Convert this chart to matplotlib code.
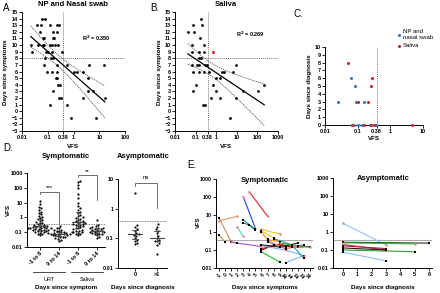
import numpy as np
import matplotlib
matplotlib.use('Agg')
import matplotlib.pyplot as plt
from matplotlib.transforms import blended_transform_factory
from matplotlib.ticker import NullLocator, FixedLocator, FixedFormatter

plt.rcParams['font.family'] = ['Liberation Sans', 'DejaVu Sans']
plt.rcParams['font.weight'] = 'bold'
plt.rcParams['axes.linewidth'] = 0.7

# ---------------- data ----------------
# Panel A: NP and nasal swab
a_vfs = [0.058, 0.078, 0.039, 0.053, 0.122, 0.235, 0.28, 0.05, 0.166, 0.224,
         0.063, 0.071, 0.155, 0.174, 0.022, 0.043, 0.063, 0.071, 0.123, 0.141, 0.19, 0.257,
         0.025, 0.085, 0.105, 0.141, 0.35, 0.078, 0.129, 0.166,
         0.071, 0.234, 0.55, 4.1, 15, 0.095, 0.141, 0.234, 1.05, 1.4, 2.3,
         0.209, 0.234, 3.7, 0.257, 0.30, 0.166, 3.7, 5.9, 0.28, 0.316, 2.4, 16.6,
         0.123, 0.575, 0.78, 7.4]
a_days = [14, 14, 13, 13, 13, 13, 13, 12, 12, 12,
          11, 11, 11, 11, 10, 10, 10, 10, 10, 10, 10, 10,
          9, 9, 9, 9, 9, 8, 8, 8,
          7, 7, 7, 7, 7, 6, 6, 6, 6, 6, 6,
          5, 5, 5, 4, 4, 3, 3, 3, 2, 2, 2, 2,
          1, 1, -1, -1]
a_r2 = "0.350"

# Panel B: saliva
b_vfs = [0.183, 0.078, 0.214, 0.042, 0.087, 0.162, 0.069, 0.263, 0.069, 0.148, 0.263,
         0.151, 0.178, 0.069, 0.112, 0.151, 0.288, 0.347, 9.1,
         0.074, 0.151, 0.263, 0.447, 1.86, 2.45, 6.8, 0.955, 1.51,
         0.105, 0.724, 214, 0.078, 0.977, 19.5, 110, 0.562, 1.51, 9.1,
         0.234, 0.288, 4.7]
b_days = [14, 13, 13, 12, 12, 11, 10, 10, 9, 9, 9,
          8, 8, 7, 7, 7, 7, 7, 7,
          6, 6, 6, 6, 6, 6, 6, 5, 5,
          4, 4, 4, 3, 3, 3, 3, 2, 2, 2,
          1, 1, -1]
b_out_vfs = [0.724]
b_out_days = [9]
b_r2 = "0.269"

# Panel C: days since diagnosis (asymptomatic)
c_np_vfs = [0.025, 0.063, 0.083, 0.087, 0.158, 0.079, 0.105, 0.132, 0.24, 0.355]
c_np_days = [3, 6, 5, 3, 3, 0, 0, 0, 0, 0]
c_sal_vfs = [0.049, 0.282, 0.257, 0.10, 0.209, 0.069, 0.158, 0.257, 0.324, 4.5]
c_sal_days = [8, 6, 5, 3, 3, 0, 0, 0, 0, 0]

# Panel D: symptomatic groups
d_sym_labels = ['-1 to 8', '9 to 14', '-1 to 8', '9 to 14']
d_urt_early = [13, 8, 5, 4, 3, 2.5, 2, 1.6, 1.3, 1.1, 0.9, 0.8, 0.7, 0.6, 0.5, 0.45,
               0.4, 0.35, 0.32, 0.3, 0.28, 0.26, 0.25, 0.23, 0.22, 0.21, 0.2, 0.19,
               0.18, 0.17, 0.16, 0.15, 0.14, 0.13, 0.12, 0.11, 0.1, 0.09, 0.08, 0.07,
               0.06, 0.2, 0.18, 0.15, 0.12]
d_urt_late = [0.25, 0.2, 0.18, 0.15, 0.14, 0.13, 0.12, 0.11, 0.1, 0.1, 0.09, 0.09,
              0.085, 0.08, 0.08, 0.075, 0.07, 0.07, 0.065, 0.06, 0.06, 0.055, 0.05,
              0.05, 0.045, 0.04, 0.035, 0.03, 0.025]
d_sal_early = [300, 250, 150, 100, 40, 20, 10, 6, 4, 3, 2.5, 2, 1.5, 1.2, 1, 0.9,
               0.8, 0.7, 0.6, 0.55, 0.5, 0.45, 0.4, 0.38, 0.35, 0.32, 0.3, 0.28, 0.25,
               0.22, 0.2, 0.18, 0.16, 0.15, 0.13, 0.12, 0.11, 0.1, 0.09, 0.08, 0.07, 0.06]
d_sal_late = [0.7, 0.3, 0.25, 0.22, 0.2, 0.19, 0.18, 0.17, 0.16, 0.15, 0.14, 0.13,
              0.12, 0.12, 0.11, 0.1, 0.1, 0.09, 0.09, 0.08, 0.08, 0.07, 0.06, 0.05, 0.04]
d_sym_sig = ['***', '**']
d_asym_labels = ['0', '>1']
d_asym_0 = [3.5, 0.28, 0.25, 0.2, 0.18, 0.15, 0.14, 0.13, 0.12, 0.1, 0.09, 0.08, 0.07, 0.065]
d_asym_1 = [0.3, 0.25, 0.2, 0.18, 0.15, 0.12, 0.1, 0.09, 0.08, 0.08, 0.07, 0.06, 0.03]
d_asym_sig = 'ns'

# Panel E: symptomatic trajectories (days since symptoms, VFS)
e_sym_days = [[-1, 2], [-1, 1, 2], [-1, 0], [1, 6], [3, 5], [4, 7], [3, 5], [2, 3],
              [3, 4, 5], [6, 9], [6, 8, 10], [6, 7, 9], [6, 9, 11], [6, 9], [10, 13],
              [6, 8, 12, 14], [7, 10, 13], [6, 10, 13], [8, 11, 13], [6, 9, 12],
              [9, 12, 14], [7, 10, 12]]
e_sym_vals = [[4.5, 8], [6.5, 0.3, 0.25], [0.7, 0.3], [0.28, 0.16], [100, 1.7], [190, 8],
              [5, 1.5], [2, 0.6], [3.5, 2.5, 1.3], [1.5, 0.8], [1.2, 0.5, 0.15],
              [1.0, 0.4, 0.3], [0.12, 0.22, 0.15], [0.08, 0.022], [0.02, 0.05],
              [0.1, 0.2, 0.15, 0.16], [0.3, 0.12, 0.2], [0.18, 0.1, 0.05],
              [0.45, 0.2, 0.035], [0.2, 0.15, 0.25], [0.25, 0.18, 0.15], [0.35, 0.12, 0.18]]
# Panel E: asymptomatic trajectories (days since diagnosis, VFS)
e_asym_days = [[0, 3], [0, 6], [0, 5], [0, 3], [0, 3], [0, 5], [0, 3], [0, 3]]
e_asym_vals = [[3, 0.19], [0.27, 0.24], [0.25, 0.22], [0.2, 0.1], [0.17, 0.12],
               [0.1, 0.08], [0.075, 0.025], [0.13, 0.1]]

threshold = 0.38

# ---------------- styles ----------------
e_sym_colors = ['#d2a064', '#c89050', '#c89050', '#b040e0', '#2040e0', '#e82020', '#20a090',
                '#40e0c0', '#208080', '#f0c020', '#f0c020', '#f09020', '#c02020', '#20c020',
                '#80b0f0', '#a01010', '#808080', '#80b0f0', '#20a0a0', '#202020',
                '#20a020', '#f08080']
e_sym_mk = ['p', 'k', 'k', 'p', 'p', 'p', 'k', 'p', 'k', 'p', 'k', 'k', 'k', 'k', 'k',
            'k', 'k', 'p', 'k', 'k', 'p', 'k']
e_asym_colors = ['#90c0f0', '#204020', '#30b030', '#c03030', '#a02040', '#30a030',
                 '#90c0f0', '#202020']
e_asym_mk = ['p', 'k', 'p', 'p', 'k', 'k', 'k', 'k']
PINK = '#f08080'

W, H = 440, 293
fig = plt.figure(figsize=(W / 100, H / 100), dpi=100)
FS = 4


def add_ax(l, t, r, b):
    return fig.add_axes([l / W, 1 - b / H, (r - l) / W, (b - t) / H])


def ftext(x, y, s, **kw):
    kw.setdefault('ha', 'center')
    kw.setdefault('va', 'center')
    fig.text(x / W, 1 - y / H, s, **kw)


def style(ax):
    ax.spines['top'].set_visible(False)
    ax.spines['right'].set_visible(False)
    ax.tick_params(length=2, width=0.6, labelsize=FS, pad=1)
    for t in ax.get_xticklabels() + ax.get_yticklabels():
        t.set_fontweight('bold')


def log_x_ticks(ax, ticks, labels):
    ax.xaxis.set_major_locator(FixedLocator(ticks))
    ax.xaxis.set_major_formatter(FixedFormatter(labels))
    ax.xaxis.set_minor_locator(NullLocator())


def log_y_ticks(ax, ticks, labels):
    ax.yaxis.set_major_locator(FixedLocator(ticks))
    ax.yaxis.set_major_formatter(FixedFormatter(labels))
    ax.yaxis.set_minor_locator(NullLocator())


def regression(ax, vfs, days):
    x = np.log10(np.array(vfs))
    y = np.array(days, dtype=float)
    b, a = np.polyfit(x, y, 1)
    n = len(x)
    res = y - (a + b * x)
    s = np.sqrt(np.sum(res ** 2) / (n - 2))
    xm = x.mean()
    sxx = np.sum((x - xm) ** 2)
    xs = np.linspace(x.min(), x.max(), 100)
    yf = a + b * xs
    se = s * np.sqrt(1 / n + (xs - xm) ** 2 / sxx)
    ax.plot(10 ** xs, yf, color='black', lw=0.9)
    ax.plot(10 ** xs, yf + 2.0 * se, color='#555555', lw=0.6, ls=(0, (1.5, 1)))
    ax.plot(10 ** xs, yf - 2.0 * se, color='#555555', lw=0.6, ls=(0, (1.5, 1)))


def scatter_panel(ax, vfs, days, xmax, xticks, xlabels):
    ax.set_xscale('log')
    ax.set_xlim(0.01, xmax)
    ax.set_ylim(-3, 15)
    ax.set_yticks(range(-3, 16))
    log_x_ticks(ax, xticks, xlabels)
    ax.axvline(threshold, color='#777777', lw=0.7, ls=(0, (1, 1)))
    ax.axhline(8, color='#777777', lw=0.7, ls=(0, (1, 1)))
    ax.scatter(vfs, days, s=4, color='black', zorder=3, linewidths=0)
    regression(ax, vfs, days)
    style(ax)


# ---- Panel A ----
axA = add_ax(22, 12, 125, 131)
scatter_panel(axA, a_vfs, a_days, 100, [0.01, 0.1, 0.38, 1, 10, 100],
              ['0.01', '0.1', '0.38', '1', '10', '100'])
axA.text(2.2, 11.0, 'R$^2$ = ' + a_r2, fontsize=4, va='center', ha='left')
ftext(73, 5, 'NP and Nasal swab', fontsize=5.5, fontweight='bold')
ftext(73, 147, 'VFS', fontsize=4.5, fontweight='bold')
ftext(6, 72, 'Days since symptoms', fontsize=4.5, fontweight='bold', rotation=90)
ftext(8, 8, 'A.', fontsize=7, fontweight='normal')

# ---- Panel B ----
axB = add_ax(175, 12, 278, 131)
scatter_panel(axB, b_vfs, b_days, 1000, [0.01, 0.1, 0.38, 1, 10, 100, 1000],
              ['0.01', '0.1', '0.38', '1', '10', '100', '1000'])
axB.scatter(b_out_vfs, b_out_days, s=4, color='red', zorder=3, linewidths=0)
axB.text(9, 11.6, 'R$^2$ = ' + b_r2, fontsize=4, va='center', ha='left')
ftext(226, 5, 'Saliva', fontsize=5.5, fontweight='bold')
ftext(226, 147, 'VFS', fontsize=4.5, fontweight='bold')
ftext(159, 72, 'Days since symptoms', fontsize=4.5, fontweight='bold', rotation=90)
ftext(155, 8, 'B.', fontsize=7, fontweight='normal')

# ---- Panel C ----
axC = add_ax(325, 47, 423, 125)
axC.set_xscale('log')
axC.set_xlim(0.01, 10)
axC.set_ylim(0, 10)
axC.set_yticks(range(0, 11))
log_x_ticks(axC, [0.01, 0.1, 0.38, 1, 10], ['0.01', '0.1', '0.38', '1', '10'])
axC.axvline(threshold, color='#777777', lw=0.7, ls=(0, (1, 1)))
axC.scatter(c_np_vfs, c_np_days, s=5, color='#3a78c8', zorder=3, linewidths=0,
            label='NP and\nnasal swab', clip_on=False)
axC.scatter(c_sal_vfs, c_sal_days, s=5, color='#c0282e', zorder=3, linewidths=0,
            label='Saliva', clip_on=False)
axC.legend(loc='upper left', bbox_to_anchor=(0.7, 1.26), frameon=False, fontsize=4.3,
           handletextpad=0.1, handlelength=1.0, borderaxespad=0, labelspacing=0.5,
           prop={'weight': 'normal', 'size': 4.3})
style(axC)
ftext(374, 138, 'VFS', fontsize=4.5, fontweight='bold')
ftext(309, 86, 'Days since diagnosis', fontsize=4.5, fontweight='bold', rotation=90)
ftext(298, 14, 'C.', fontsize=7, fontweight='normal')


def swarm_x(vals, ppd, ppu, d=2.4):
    y = np.log10(np.array(vals, dtype=float)) * ppd
    order = np.argsort(y)
    placed = []
    xs = np.zeros(len(y))
    for i in order:
        for k in range(60):
            cands = [0.0] if k == 0 else [k * d * 0.5, -k * d * 0.5]
            found = None
            for off in cands:
                if all((off - px) ** 2 + (y[i] - py) ** 2 >= d * d for px, py in placed):
                    found = off
                    break
            if found is not None:
                placed.append((found, y[i]))
                xs[i] = found / ppu
                break
    return xs


def dot_group(ax, pos, vals, ppd, ppu):
    off = swarm_x(vals, ppd, ppu)
    ax.scatter(pos + off, vals, s=2.5, color='black', linewidths=0, zorder=3)
    q1, med, q3 = np.percentile(vals, [25, 50, 75])
    ax.plot([pos - 0.3, pos + 0.3], [med, med], color='#444444', lw=0.8, zorder=4)
    ax.plot([pos, pos], [q1, q3], color='#444444', lw=0.6, zorder=4)
    ax.plot([pos - 0.13, pos + 0.13], [q1, q1], color='#444444', lw=0.6, zorder=4)
    ax.plot([pos - 0.13, pos + 0.13], [q3, q3], color='#444444', lw=0.6, zorder=4)


def bracket(ax, x0, x1, ytop, yl, yr, text):
    ax.plot([x0, x0, x1, x1], [yl, ytop, ytop, yr], color='#555555', lw=0.6, clip_on=False)
    ax.text((x0 + x1) / 2, ytop * 1.25, text, ha='center', va='bottom', fontsize=4.5,
            fontweight='normal', clip_on=False)


# ---- Panel D symptomatic ----
axD1 = add_ax(27, 173, 105, 247)
axD1.set_yscale('log')
axD1.set_ylim(0.01, 1000)
axD1.set_xlim(-0.68, 3.42)
log_y_ticks(axD1, [0.01, 0.1, 1, 10, 100, 1000], ['0.01', '0.1', '1', '10', '100', '1000'])
axD1.axhline(threshold, color='#555555', lw=0.6, ls=(0, (1, 1)))
for i, g in enumerate([d_urt_early, d_urt_late, d_sal_early, d_sal_late]):
    dot_group(axD1, i, g, 14.8, 19.0)
axD1.set_xticks(range(4))
axD1.set_xticklabels(d_sym_labels, rotation=45, ha='right', rotation_mode='anchor')
bracket(axD1, 0, 1, 55, 38, 0.35, d_sym_sig[0])
bracket(axD1, 2, 3, 700, 550, 15, d_sym_sig[1])
style(axD1)
trD = blended_transform_factory(axD1.transData, axD1.transAxes)
for (x0, x1, lab) in [(-0.35, 1.3, 'URT'), (1.65, 3.3, 'Saliva')]:
    axD1.plot([x0, x1], [-0.34, -0.34], color='black', lw=0.5, transform=trD, clip_on=False)
    axD1.text((x0 + x1) / 2, -0.41, lab, transform=trD, ha='center', va='top',
              fontsize=4, fontweight='normal')
ftext(66, 156, 'Symptomatic', fontsize=5.5, fontweight='bold')
ftext(66, 287, 'Days since symptom', fontsize=4.5, fontweight='bold')
ftext(8, 210, 'VFS', fontsize=4.5, fontweight='bold', rotation=90)
ftext(8, 148, 'D.', fontsize=7, fontweight='normal')

# ---- Panel D asymptomatic ----
axD2 = add_ax(118, 179, 167, 268)
axD2.set_yscale('log')
axD2.set_ylim(0.01, 10)
axD2.set_xlim(-0.77, 1.45)
log_y_ticks(axD2, [0.01, 0.1, 1, 10], ['0.01', '0.1', '1', '10'])
axD2.axhline(threshold, color='#555555', lw=0.6, ls=(0, (1, 1)))
for i, g in enumerate([d_asym_0, d_asym_1]):
    dot_group(axD2, i, g, 29.7, 22.0)
axD2.set_xticks(range(2))
axD2.set_xticklabels(d_asym_labels)
bracket(axD2, 0, 1, 7.4, 6.0, 1.05, d_asym_sig)
style(axD2)
ftext(143, 157, 'Asymptomatic', fontsize=5.5, fontweight='bold')
ftext(143, 287, 'Days since diagnosis', fontsize=4.5, fontweight='bold')


def traj(ax, days_l, vals_l, colors, mks):
    for d, v, c, m in zip(days_l, vals_l, colors, mks):
        ax.plot(d, v, color=c, lw=0.8, zorder=2)
        if m == 'p':
            ax.scatter(d, v, s=3, color=PINK, marker='o', linewidths=0, zorder=3)
        else:
            ax.scatter(d, v, s=3, color='black', marker='s', linewidths=0, zorder=3)


# ---- Panel E symptomatic ----
axE1 = add_ax(216, 179, 313, 268)
axE1.set_yscale('log')
axE1.set_ylim(0.01, 1000)
axE1.set_xlim(-1.5, 14.5)
log_y_ticks(axE1, [0.01, 0.1, 1, 10, 100, 1000], ['0.01', '0.1', '1', '10', '100', '1000'])
axE1.axhline(threshold, color='#aaaaaa', lw=0.8)
traj(axE1, e_sym_days, e_sym_vals, e_sym_colors, e_sym_mk)
axE1.set_xticks(range(-1, 15))
axE1.set_xticklabels([str(i) for i in range(-1, 15)], rotation=45, ha='right',
                     rotation_mode='anchor')
style(axE1)
axE1.tick_params(axis='x', labelsize=3.5)
axE1.tick_params(axis='y', labelsize=3.7)
ftext(265, 181, 'Symptomatic', fontsize=5.5, fontweight='bold')
ftext(265, 288, 'Days since symptoms', fontsize=4.5, fontweight='bold')
ftext(198, 222, 'VFS', fontsize=4.2, fontweight='bold', rotation=90)
ftext(192, 165, 'E.', fontsize=7, fontweight='normal')

# ---- Panel E asymptomatic ----
axE2 = add_ax(333, 178, 432, 268)
axE2.set_yscale('log')
axE2.set_ylim(0.01, 1000)
axE2.set_xlim(-0.7, 6.2)
log_y_ticks(axE2, [0.01, 0.1, 1, 10, 100, 1000], ['0.01', '0.1', '1', '10', '100', '1000'])
axE2.axhline(threshold, color='#aaaaaa', lw=0.8)
traj(axE2, e_asym_days, e_asym_vals, e_asym_colors, e_asym_mk)
axE2.set_xticks(range(0, 7))
style(axE2)
ftext(383, 179, 'Asymptomatic', fontsize=5.5, fontweight='bold')
ftext(383, 287, 'Days since diagnosis', fontsize=4.5, fontweight='bold')

fig.savefig('out.png', dpi=100)
